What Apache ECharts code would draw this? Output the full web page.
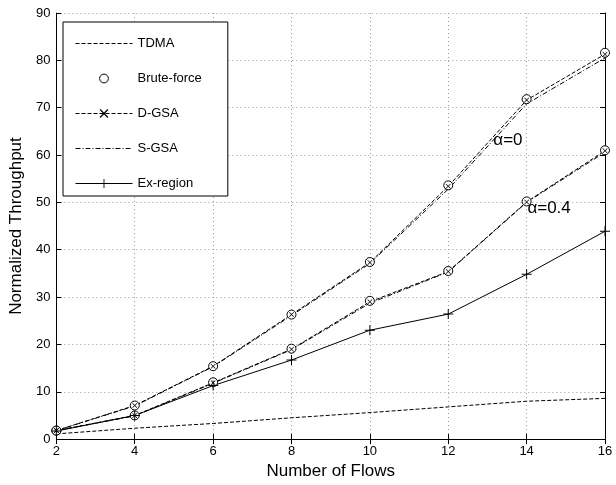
<!DOCTYPE html>
<html>
<head>
<meta charset="utf-8">
<script src="https://cdn.jsdelivr.net/npm/echarts@6/dist/echarts.min.js"></script>
<style>
html,body{margin:0;padding:0;background:#fff;}
#chart{width:616px;height:485px;}
</style>
</head>
<body>
<div id="chart"></div>
<script>
// ---- data ----
var flows = [2, 4, 6, 8, 10, 12, 14, 16];
var tdma = [1.1, 2.3, 3.3, 4.5, 5.6, 6.8, 8.0, 8.6];
var bruteA0 = [1.8, 7.1, 15.4, 26.3, 37.4, 53.6, 71.8, 81.6];
var dgsaA0 = [1.8, 7.1, 15.4, 26.3, 37.3, 53.4, 71.6, 81.3];
var sgsaA0 = [1.8, 7.0, 15.3, 26.1, 37.1, 52.8, 70.8, 80.5];
var bruteA04 = [1.8, 5.0, 12.0, 19.1, 29.2, 35.5, 50.2, 61.0];
var dgsaA04 = [1.8, 5.0, 11.9, 19.0, 29.0, 35.4, 50.1, 60.9];
var sgsaA04 = [1.8, 4.9, 11.8, 18.9, 28.7, 35.3, 50.0, 60.6];
var exRegion = [1.7, 5.0, 11.3, 16.7, 23.0, 26.4, 34.8, 43.9];
var yTicks = [0, 10, 20, 30, 40, 50, 60, 70, 80, 90];
var xTicks = [2, 4, 6, 8, 10, 12, 14, 16];
var labelA0 = {text: 'α=0', x: 13.15, y: 63.2};
var labelA04 = {text: 'α=0.4', x: 14.02, y: 48.7};

function pairs(ys) { return flows.map(function (x, i) { return [x, ys[i]]; }); }

var FONT = 'Liberation Sans, Arial, Helvetica, sans-serif';
var xSym = 'path://M0,1L1,0L5,4L9,0L10,1L6,5L10,9L9,10L5,6L1,10L0,9L4,5Z';
var plusSym = 'path://M4.5,0H5.5V4.5H10V5.5H5.5V10H4.5V5.5H0V4.5H4.5Z';

var chart = echarts.init(document.getElementById('chart'), null, {renderer: 'canvas'});

function lineSeries(name, ys, lineType, symbol, size, showLine) {
  var hasSym = !!symbol;
  var isCircle = symbol === 'circle';
  return {
    name: name,
    type: 'line',
    data: pairs(ys),
    symbol: hasSym ? symbol : 'circle',
    symbolSize: hasSym ? size : 0,
    showSymbol: hasSym,
    silent: true,
    animation: false,
    color: '#000',
    itemStyle: {color: isCircle ? '#fff' : '#000', borderColor: '#000', borderWidth: isCircle ? 1 : 0},
    lineStyle: {color: '#000', width: 1, type: lineType || 'solid', opacity: showLine === false ? 0 : 1}
  };
}

var axisCommon = {
  axisLine: {show: true, lineStyle: {color: '#000', width: 1}},
  axisTick: {show: true, inside: true, length: 5, lineStyle: {color: '#000'}},
  axisLabel: {color: '#000', fontFamily: FONT, fontSize: 13},
  splitLine: {show: true, lineStyle: {color: '#999', type: [1, 3], width: 1}}
};

var option = {
  backgroundColor: '#fff',
  animation: false,
  grid: {left: 53, right: 11, top: 13, bottom: 39, containLabel: false},
  xAxis: [
    Object.assign({}, axisCommon, {
      type: 'value', min: 2, max: 16, interval: 2, position: 'bottom',
      name: 'Number of Flows', nameLocation: 'middle', nameGap: 22,
      nameTextStyle: {color: '#000', fontFamily: FONT, fontSize: 17},
      axisLabel: {color: '#000', fontFamily: FONT, fontSize: 13, margin: 6}
    }),
    {type: 'value', min: 2, max: 16, interval: 2, position: 'top',
     axisLine: {show: true, lineStyle: {color: '#000'}}, axisTick: {show: true, inside: true, length: 5, lineStyle: {color: '#000'}},
     axisLabel: {show: false}, splitLine: {show: false}}
  ],
  yAxis: [
    Object.assign({}, axisCommon, {
      type: 'value', min: 0, max: 90, interval: 10, position: 'left',
      name: 'Normalized Throughput', nameLocation: 'middle', nameGap: 25,
      nameTextStyle: {color: '#000', fontFamily: FONT, fontSize: 17},
      axisLabel: {color: '#000', fontFamily: FONT, fontSize: 13, margin: 6,
        formatter: function (v) { return yTicks.indexOf(v) >= 0 ? String(v) : ''; }}
    }),
    {type: 'value', min: 0, max: 90, interval: 10, position: 'right',
     axisLine: {show: true, lineStyle: {color: '#000'}}, axisTick: {show: true, inside: true, length: 5, lineStyle: {color: '#000'}},
     axisLabel: {show: false}, splitLine: {show: false}}
  ],
  legend: {
    orient: 'vertical', left: 63, top: 22,
    backgroundColor: '#fff', borderColor: '#000', borderWidth: 1,
    padding: [15, 26, 6, 12],
    itemWidth: 57, itemHeight: 11, itemGap: 22,
    lineStyle: {width: 1},
    textStyle: {color: '#000', fontFamily: FONT, fontSize: 13},
    data: [
      {name: 'TDMA', itemStyle: {opacity: 0}},
      {name: 'Brute-force', itemStyle: {borderWidth: 1}},
      {name: 'D-GSA'},
      {name: 'S-GSA', itemStyle: {opacity: 0}},
      {name: 'Ex-region'}
    ],
    selectedMode: false
  },
  series: [
    lineSeries('TDMA', tdma, [4, 2]),
    lineSeries('S-GSA', sgsaA0, [5, 2, 1, 2]),
    lineSeries('S-GSA', sgsaA04, [5, 2, 1, 2]),
    lineSeries('Brute-force', bruteA0, 'solid', 'circle', 9, false),
    lineSeries('Brute-force', bruteA04, 'solid', 'circle', 9, false),
    lineSeries('D-GSA', dgsaA0, [4, 2], xSym, 5),
    lineSeries('D-GSA', dgsaA04, [4, 2], xSym, 5),
    lineSeries('Ex-region', exRegion, 'solid', plusSym, 10)
  ]
};
chart.setOption(option);

function placeLabels() {
  var p0 = chart.convertToPixel({gridIndex: 0}, [labelA0.x, labelA0.y]);
  var p1 = chart.convertToPixel({gridIndex: 0}, [labelA04.x, labelA04.y]);
  chart.setOption({
    graphic: [
      {type: 'text', x: p0[0], y: p0[1], silent: true,
       style: {text: labelA0.text, fill: '#000', font: '17px ' + FONT, textVerticalAlign: 'middle', textAlign: 'left'}},
      {type: 'text', x: p1[0], y: p1[1], silent: true,
       style: {text: labelA04.text, fill: '#000', font: '17px ' + FONT, textVerticalAlign: 'middle', textAlign: 'left'}}
    ]
  });
}
placeLabels();
</script>
</body>
</html>
